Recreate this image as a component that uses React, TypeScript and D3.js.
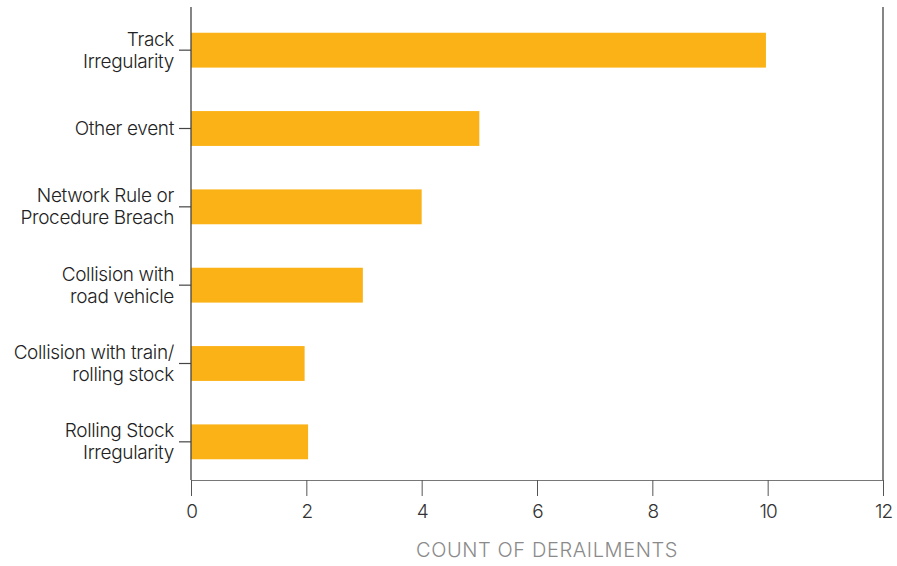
import React, { useEffect, useRef } from "react";
import * as d3 from "d3";

const categories = [
  ["Track", "Irregularity"],
  ["Other event"],
  ["Network Rule or", "Procedure Breach"],
  ["Collision with", "road vehicle"],
  ["Collision with train/", "rolling stock"],
  ["Rolling Stock", "Irregularity"],
];
const counts = [9.97, 5, 4, 2.98, 1.97, 2.03];
const xTicks = [0, 2, 4, 6, 8, 10, 12];

const W = 897;
const H = 566;
const BAR = "#FBB217";
const FONT = "Inter, 'Noto Sans', sans-serif";

const App: React.FC = () => {
  const svgRef = useRef<SVGSVGElement>(null);

  useEffect(() => {
    const svg = d3.select(svgRef.current);
    svg.selectAll("*").remove();

    const left = 191;
    const right = 883;
    const top = 7;
    const bottom = 480;

    const x = d3.scaleLinear().domain([0, 12]).range([left, right]);
    const y = d3.scaleBand<number>()
      .domain(d3.range(categories.length))
      .range([11, 481])
      .paddingInner(0.555)
      .paddingOuter(0.2775);

    // bars
    svg.append("g")
      .selectAll("rect")
      .data(counts)
      .join("rect")
      .attr("x", x(0))
      .attr("y", (_, i) => y(i)!)
      .attr("width", (d) => x(d) - x(0))
      .attr("height", y.bandwidth())
      .attr("fill", BAR);

    // frame lines
    svg.append("line")
      .attr("x1", left).attr("x2", left).attr("y1", top).attr("y2", bottom)
      .attr("stroke", "#444").attr("stroke-width", 1.3);
    svg.append("line")
      .attr("x1", right).attr("x2", right).attr("y1", top).attr("y2", bottom)
      .attr("stroke", "#444").attr("stroke-width", 1.3);

    // x axis
    const xAxis = svg.append("g")
      .attr("transform", `translate(0,${bottom})`)
      .call(d3.axisBottom(x).tickValues(xTicks).tickSize(16).tickSizeOuter(0).tickFormat(d3.format("d")));
    xAxis.select(".domain").attr("stroke", "#777").attr("stroke-width", 1.2);
    xAxis.selectAll(".tick line").attr("stroke", "#555");
    xAxis.selectAll(".tick text")
      .attr("y", 25)
      .attr("dy", "0.71em")
      .attr("fill", "#333")
      .style("font-family", FONT)
      .style("font-weight", "300")
      .style("font-size", "19px")
      .style("letter-spacing", "-1px");

    // y ticks and labels
    const yg = svg.append("g");
    categories.forEach((lines, i) => {
      const cy = y(i)! + y.bandwidth() / 2;
      yg.append("line")
        .attr("x1", left - 12).attr("x2", left)
        .attr("y1", cy).attr("y2", cy)
        .attr("stroke", "#444").attr("stroke-width", 1.2);
      const t = yg.append("text")
        .attr("x", 174)
        .attr("text-anchor", "end")
        .attr("fill", "#222")
        .style("font-family", FONT)
        .style("font-weight", "300")
        .style("font-size", "19px")
        .style("letter-spacing", "-0.35px");
      const startY = cy - ((lines.length - 1) * 22) / 2 + 6.5;
      lines.forEach((ln, j) => {
        t.append("tspan").attr("x", 174).attr("y", startY + j * 22).text(ln);
      });
    });

    // axis title
    svg.append("text")
      .attr("x", 547)
      .attr("y", 557)
      .attr("text-anchor", "middle")
      .attr("fill", "#8a8a8a")
      .style("font-family", FONT)
      .style("font-weight", "300")
      .style("font-size", "20px")
      .style("letter-spacing", "0.6px")
      .text("COUNT OF DERAILMENTS");
  }, []);

  return (
    <svg
      ref={svgRef}
      width={W}
      height={H}
      style={{ position: "absolute", left: 0, top: 0, display: "block", background: "#fff" }}
    />
  );
};

export default App;
